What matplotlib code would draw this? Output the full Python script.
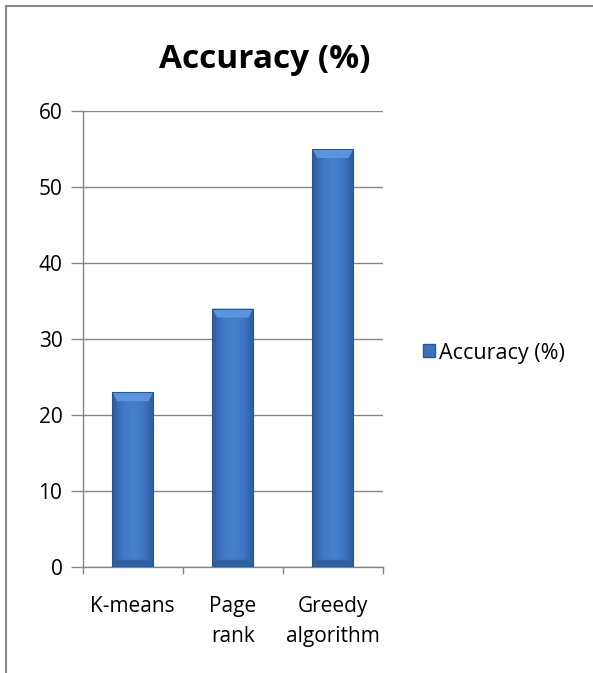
import matplotlib
matplotlib.use("Agg")
import matplotlib.pyplot as plt
import matplotlib.transforms as mtransforms
import numpy as np
from matplotlib.lines import Line2D
from matplotlib.patches import Polygon, Patch

categories = ["K-means", "Page\nrank", "Greedy\nalgorithm"]
values = [23, 34, 55]
series_name = "Accuracy (%)"
yticks = [0, 10, 20, 30, 40, 50, 60]

plt.rcParams['font.family'] = ['Open Sans', 'DejaVu Sans']

W, H = 593, 673
DPI = 100
fig = plt.figure(figsize=(W / DPI, H / DPI), dpi=DPI)
fig.patch.set_facecolor('white')

# chart border (top and left visible)
fig.add_artist(Line2D([5.5 / W, 5.5 / W], [0, 1 - 5.5 / H], transform=fig.transFigure,
                      color='#8a8a8a', lw=1.5))
fig.add_artist(Line2D([5.5 / W, 1], [1 - 5.5 / H, 1 - 5.5 / H], transform=fig.transFigure,
                      color='#8a8a8a', lw=1.5))

left, right = 82.7 / W, 383 / W
bottom, top = 1 - 567 / H, 1 - 111 / H
ax = fig.add_axes([left, bottom, right - left, top - bottom])

x = np.arange(len(categories))
bar_w = 0.41
bars = ax.bar(x, values, width=bar_w, color='#3c71bb', zorder=3, edgecolor='none')

cmap = matplotlib.colors.LinearSegmentedColormap.from_list(
    'bev', ['#2d5b9c', '#3f77c4', '#4680cc', '#3f77c4', '#2d5b9c'])
grad = np.linspace(0, 1, 200).reshape(1, -1)
for b in bars:
    x0 = b.get_x(); x1 = x0 + b.get_width(); h = b.get_height()
    im = ax.imshow(grad, extent=[x0, x1, 0, h], aspect='auto', cmap=cmap,
                   zorder=3.5, interpolation='bilinear')
    im.set_clip_path(b)
    dx = b.get_width() * 0.12
    dy = 60 * 9 / 456
    ax.add_patch(Polygon([[x0, h], [x1, h], [x1 - dx, h - dy], [x0 + dx, h - dy]],
                         closed=True, facecolor='#5b93dc', edgecolor='none', zorder=4))
    ax.add_patch(Polygon([[x0, 0], [x1, 0], [x1 - dx, dy * 0.8], [x0 + dx, dy * 0.8]],
                         closed=True, facecolor='#2f5f9f', edgecolor='none', zorder=4))
    ax.add_patch(matplotlib.patches.Rectangle((x0, 0), x1 - x0, h, facecolor='none',
                                              edgecolor='#2a558f', lw=0.8, zorder=4.5))

ax.set_xlim(-0.5, len(categories) - 0.5)
ax.set_ylim(0, 60)
ax.set_yticks(yticks)
ax.set_yticklabels([str(v) for v in yticks])
ax.yaxis.grid(True, color='#868686', lw=1.0, zorder=0)
ax.set_axisbelow(True)

ax.set_xticks(np.arange(len(categories) + 1) - 0.5)
ax.set_xticklabels([])
ax.tick_params(axis='x', direction='out', length=5, width=1.0, color='#868686')
ax.tick_params(axis='y', direction='out', length=8.6, width=1.0, color='#868686',
               labelsize=15, pad=6)

# category labels, one line at a time (baseline 45 px below axis, 30 px line step)
xtrans = ax.get_xaxis_transform()
for i, c in enumerate(categories):
    for k, line in enumerate(c.split("\n")):
        off = mtransforms.ScaledTranslation(0, -(45 + 30 * k) / DPI, fig.dpi_scale_trans)
        ax.text(x[i], 0, line, ha='center', va='baseline', fontsize=15,
                transform=xtrans + off)

for s in ['top', 'right']:
    ax.spines[s].set_visible(False)
for s in ['left', 'bottom']:
    ax.spines[s].set_color('#868686')
    ax.spines[s].set_linewidth(1.0)

fig.text(265 / W, 1 - 68 / H, "Accuracy (%)", ha='center', va='baseline',
         fontsize=24, fontweight='bold')

handle = Patch(facecolor='#3c71bb', edgecolor='#2a558f', label=series_name)
fig.legend(handles=[handle], loc='center left', bbox_to_anchor=(423 / W, 1 - 353 / H),
           frameon=False, fontsize=15.5, handlelength=0.55, handleheight=0.55,
           handletextpad=0.2, borderaxespad=0, borderpad=0)

fig.savefig("out.png", dpi=DPI, facecolor='white')
